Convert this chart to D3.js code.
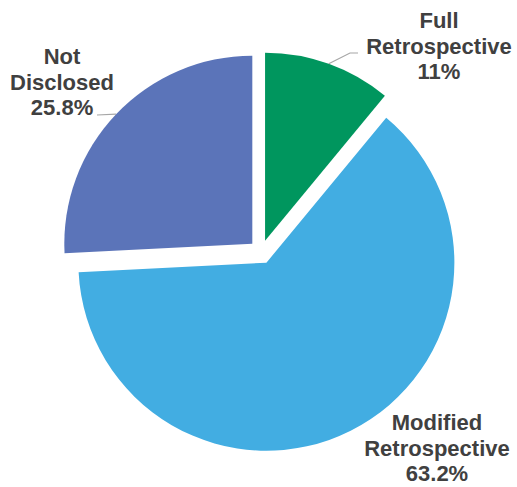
<!DOCTYPE html>
<html>
<head>
<meta charset="utf-8">
<script src="https://cdn.jsdelivr.net/npm/d3@7"></script>
<style>
  html, body { margin: 0; padding: 0; background: #ffffff; }
  svg { display: block; }
</style>
</head>
<body>
<svg id="chart" width="517" height="487"></svg>
<script>
// ---- data ----
const categories = ["Full Retrospective", "Modified Retrospective", "Not Disclosed"];
const values = [11, 63.2, 25.8];
const valueLabels = ["11%", "63.2%", "25.8%"];
const labelLines = [["Full", "Retrospective", "11%"], ["Modified", "Retrospective", "63.2%"], ["Not", "Disclosed", "25.8%"]];
const colors = ["#00965e", "#42ade2", "#5b74b9"];

// ---- layout ----
const cx = 261, cy = 252, R = 188, explode = 12;
const svg = d3.select("#chart");
const g = svg.append("g").attr("transform", `translate(${cx},${cy})`);

const data = categories.map((c, i) => ({ name: c, value: values[i], lines: labelLines[i], color: colors[i] }));
const pie = d3.pie().value(d => d.value).sort(null).startAngle(0).endAngle(2 * Math.PI);
const arcs = pie(data);
const arc = d3.arc().innerRadius(0).outerRadius(R);

function offset(a) {
  const m = (a.startAngle + a.endAngle) / 2;
  return [explode * Math.sin(m), -explode * Math.cos(m)];
}

g.selectAll("path.slice")
  .data(arcs)
  .join("path")
  .attr("class", "slice")
  .attr("d", arc)
  .attr("fill", d => d.data.color)
  .attr("transform", d => { const o = offset(d); return `translate(${o[0]},${o[1]})`; });

// label placement (relative to pie centre) and leader-line ends
const labelPos = {
  "Full Retrospective": { x: 178, y: -224, leader: [[89, -199], [97, -199]] },
  "Modified Retrospective": { x: 176, y: 178, leader: null },
  "Not Disclosed": { x: -199, y: -188, leader: [[-164, -137]] }
};

const lh = 25.5;
arcs.forEach(a => {
  const lp = labelPos[a.data.name];
  const o = offset(a);
  if (lp.leader) {
    const m = (a.startAngle + a.endAngle) / 2;
    const start = [o[0] + R * Math.sin(m), o[1] - R * Math.cos(m)];
    const pts = [start].concat(lp.leader);
    g.append("path")
      .attr("d", d3.line()(pts))
      .attr("fill", "none")
      .attr("stroke", "#a6a6a6")
      .attr("stroke-width", 1.2);
  }
  const t = g.append("text")
    .attr("x", lp.x)
    .attr("y", lp.y)
    .attr("text-anchor", "middle")
    .attr("font-family", "'Liberation Sans', Arial, sans-serif")
    .attr("font-weight", "bold")
    .attr("font-size", 22)
    .attr("fill", "#404040");
  a.data.lines.forEach((ln, i) => {
    t.append("tspan").attr("x", lp.x).attr("dy", i === 0 ? 0 : lh).text(ln);
  });
});
</script>
</body>
</html>
